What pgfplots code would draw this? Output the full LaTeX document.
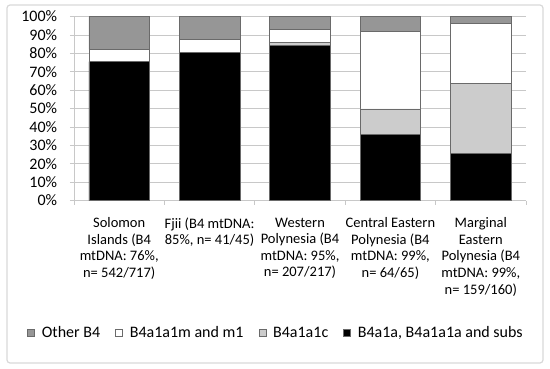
\documentclass[border=0pt]{standalone}
\usepackage{fontspec}
\setmainfont{Carlito}
\usepackage{pgfplots}
\pgfplotsset{compat=1.18}
\definecolor{othergray}{HTML}{969696}
\definecolor{lightgr}{HTML}{CCCCCC}
\definecolor{gridc}{HTML}{C8C8C8}
\definecolor{framec}{HTML}{D9D9D9}
\definecolor{edgec}{HTML}{6A6A6A}
\begin{document}
\begin{tikzpicture}
\path[use as bounding box] (0,0) rectangle (550pt,-369pt);
\draw[framec, line width=1.2pt, rounded corners=3pt] (7pt,-5pt) rectangle (543pt,-363pt);
\begin{axis}[
  at={(74pt,-200.5pt)}, anchor=south west,
  scale only axis, width=452pt, height=184pt,
  ybar stacked, bar width=0.67,
  xmin=-0.5, xmax=4.5, ymin=0, ymax=100,
  axis lines*=left,
  axis line style={gridc, line width=0.8pt},
  xtick={0,1,2,3,4},
  xticklabels={{Solomon\\Islands (B4\\mtDNA: 76\%,\\n= 542/717)},
               {Fjii (B4 mtDNA:\\85\%, n= 41/45)},
               {Western\\Polynesia (B4\\mtDNA: 95\%,\\n= 207/217)},
               {Central Eastern\\Polynesia (B4\\mtDNA: 99\%,\\n= 64/65)},
               {Marginal\\Eastern\\Polynesia (B4\\mtDNA: 99\%,\\n= 159/160)}},
  minor xtick={-0.5,0.5,1.5,2.5,3.5,4.5},
  major x tick style={draw=none},
  tick align=outside, major tick length=4pt, minor tick length=4pt,
  tick style={gridc, line width=0.8pt},
  ytick={0,10,...,100},
  yticklabel={\pgfmathprintnumber{\tick}\%},
  /pgf/number format/assume math mode=true,
  ymajorgrids, grid style={gridc, line width=0.8pt},
  yticklabel style={font=\fontsize{16}{19}\selectfont, inner sep=0pt, xshift=-12.7pt},
  xticklabel style={font=\fontsize{14.5}{16.6}\selectfont, align=center, inner sep=0pt, anchor=north, yshift=-13pt},
  legend style={at={(0.4447,-0.72)}, anchor=center, draw=none, fill=none,
    font=\fontsize{16}{19}\selectfont, legend columns=-1,
    nodes={inner xsep=0pt, inner ysep=1pt},
    /tikz/every odd column/.append style={column sep=7pt},
    /tikz/every even column/.append style={column sep=15pt}},
  legend image code/.code={\draw[#1] (0pt,-3.5pt) rectangle (7pt,3.5pt);},
  reverse legend,
]
\addplot[fill=black, draw=edgec, line width=0.6pt] coordinates {(0,75.5) (1,80.6) (2,84.2) (3,36.0) (4,25.7)};
\addplot[fill=lightgr, draw=edgec, line width=0.6pt] coordinates {(0,0) (1,0) (2,1.8) (3,13.8) (4,37.8)};
\addplot[fill=white, draw=edgec, line width=0.6pt] coordinates {(0,6.5) (1,6.8) (2,7.0) (3,42.1) (4,32.7)};
\addplot[fill=othergray, draw=edgec, line width=0.6pt] coordinates {(0,18.0) (1,12.6) (2,7.0) (3,8.1) (4,3.8)};
\legend{{B4a1a, B4a1a1a and subs},B4a1a1c,B4a1a1m and m1,Other B4}
\end{axis}
\end{tikzpicture}
\end{document}
